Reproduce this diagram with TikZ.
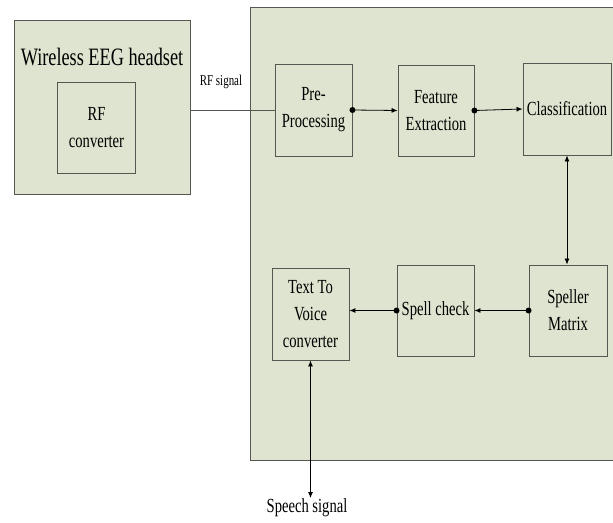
\documentclass[tikz,border=0pt]{standalone}
\usepackage{fontspec}
\setmainfont{Liberation Serif}
\newfontfamily\cf[FakeStretch=0.73]{Liberation Serif}
\usetikzlibrary{arrows.meta}
\definecolor{boxfill}{RGB}{222,228,207}
\definecolor{boxline}{RGB}{85,88,80}
\tikzset{
  blk/.style={draw=boxline, line width=0.9pt, fill=boxfill, rectangle, inner sep=0pt, align=center,
    font=\cf\fontsize{20}{27}\selectfont},
  lbl/.style={inner sep=0pt, align=center},
  conn/.style={line width=0.8pt, draw=black},
  arr/.style={conn, -{Latex[length=6pt,width=5pt]}},
  darr/.style={conn, {Latex[length=6pt,width=5pt]}-{Latex[length=6pt,width=5pt]}},
  dot/.style={circle, fill=black, inner sep=0pt, minimum size=6pt},
}
\begin{document}
\begin{tikzpicture}[x=1pt,y=-1pt]
\useasboundingbox (0,0) rectangle (613,522);
\clip (0,0) rectangle (613,522);
\fill[white] (0,0) rectangle (613,522);
% big processing box
\node[blk, minimum width=370pt, minimum height=453pt] (main) at (435,233.5) {};
% headset
\node[blk, minimum width=176pt, minimum height=174pt] (headset) at (102,107) {};
\node[lbl, font=\cf\fontsize{25}{30}\selectfont] (title) at (102,57) {Wireless EEG headset};
\node[blk, minimum width=78pt, minimum height=91pt] (rfconv) at (96.5,128) {RF\\converter};
% blocks
\node[blk, minimum width=77pt, minimum height=92pt] (pre) at (313.5,110) {Pre-\\Processing};
\node[blk, minimum width=76pt, minimum height=91pt] (feat) at (436,110.5) {Feature\\Extraction};
\node[blk, minimum width=88pt, minimum height=92pt] (cls) at (567,109) {Classification};
\node[blk, minimum width=78pt, minimum height=91pt] (spm) at (568,310.5) {Speller\\Matrix};
\node[blk, minimum width=77pt, minimum height=91pt] (spc) at (435.5,310.5) {Spell check};
\node[blk, minimum width=77pt, minimum height=92pt] (ttv) at (310.5,314) {Text To\\Voice\\converter};
% labels
\node[lbl, font=\cf\fontsize{15}{18}\selectfont] (rfsig) at (221,82) {RF signal};
\node[lbl, font=\cf\fontsize{20}{24}\selectfont, anchor=north] (speech) at (307,498) {Speech signal};
% connectors
\draw[draw=boxline, line width=0.9pt] (headset.east |- pre.west) -- (pre.west);
\draw[arr] (pre.east) -- (feat.west);
\node[dot] (d1) at (pre.east) {};
\draw[arr] (feat.east) -- (cls.west);
\node[dot] (d2) at (feat.east) {};
\draw[darr] (cls.south) -- (cls.south |- spm.north);
\draw[arr] (spm.west) -- (spc.east);
\node[dot] (d3) at (spm.west) {};
\draw[arr] (spc.west) -- (ttv.east |- spc.west);
\node[dot] (d4) at (spc.west) {};
\coordinate (sp) at (ttv.south |- speech.north);
\draw[darr] (ttv.south) -- (sp);
\end{tikzpicture}
\end{document}
